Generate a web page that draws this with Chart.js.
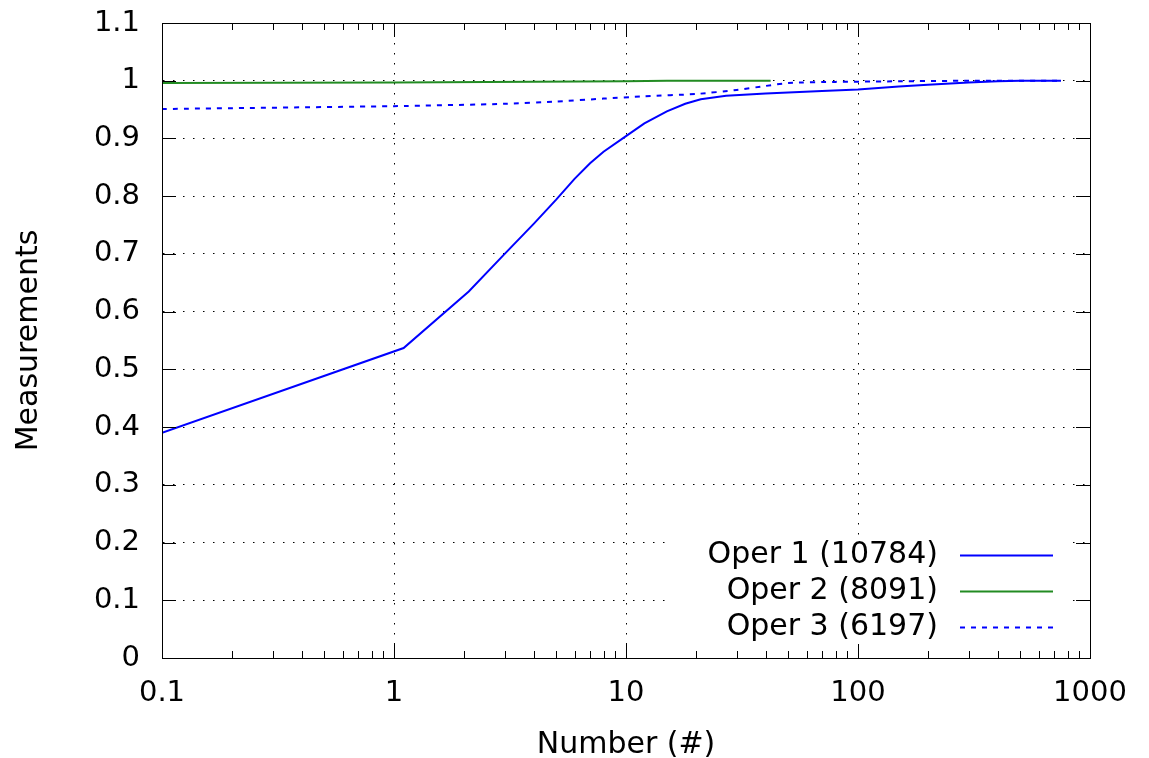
<!DOCTYPE html>
<html>
<head>
<meta charset="utf-8">
<script src="https://cdn.jsdelivr.net/npm/chart.js@4.4.1/dist/chart.umd.min.js"></script>
<style>
html,body{margin:0;padding:0;background:#fff;}
#wrap{width:1149px;height:758px;}
</style>
</head>
<body>
<div id="wrap"><canvas id="c" width="1149" height="758"></canvas></div>
<script>
// ---- data ----
const oper1X = [0.1, 1.1, 2.1, 3.0, 4.0, 5.0, 6.0, 7.0, 8.0, 10, 12, 15, 18, 21, 27, 40, 70, 100, 150, 200, 300, 400, 500, 750];
const oper1Y = [0.39, 0.537, 0.635, 0.70, 0.752, 0.794, 0.830, 0.857, 0.877, 0.904, 0.926, 0.947, 0.960, 0.968, 0.974, 0.978, 0.982, 0.985, 0.990, 0.993, 0.997, 0.999, 1.0, 1.0];
const oper2X = [0.1, 1, 10, 15, 42];
const oper2Y = [0.996, 0.997, 0.999, 1.0, 1.0];
const oper3X = [0.1, 1, 3, 5, 8, 12, 20, 30, 40, 50, 80, 150, 300, 750];
const oper3Y = [0.951, 0.956, 0.960, 0.964, 0.969, 0.973, 0.977, 0.984, 0.991, 0.996, 0.998, 0.999, 1.0, 1.0];
const seriesLabels = ['Oper 1 (10784)', 'Oper 2 (8091)', 'Oper 3 (6197)'];
const xTickValues = [0.1, 1, 10, 100, 1000];
const xTickLabels = ['0.1', '1', '10', '100', '1000'];
const yTickValues = [0, 0.1, 0.2, 0.3, 0.4, 0.5, 0.6, 0.7, 0.8, 0.9, 1.0, 1.1];
const yTickLabels = ['0', '0.1', '0.2', '0.3', '0.4', '0.5', '0.6', '0.7', '0.8', '0.9', '1', '1.1'];
const xTitle = 'Number (#)';
const yTitle = 'Measurements';

const FONT = "'DejaVu Sans', 'Liberation Sans', sans-serif";
const toPts = (xs, ys) => xs.map((x, i) => ({x: x, y: ys[i]}));

// Gnuplot-like inward ticks, full border, and in-plot legend
const framePlugin = {
  id: 'frame',
  beforeDatasetsDraw(chart) {
    const ctx = chart.ctx;
    ctx.save();
    ctx.fillStyle = '#fff';
    ctx.fillRect(666, 538, 404, 107);
    ctx.restore();
  },
  afterDatasetsDraw(chart) {
    const ctx = chart.ctx;
    const a = chart.chartArea;
    const xs = chart.scales.x, ys = chart.scales.y;
    ctx.save();
    ctx.strokeStyle = '#000';
    ctx.lineWidth = 1;
    ctx.setLineDash([]);
    ctx.beginPath();
    for (let d = 0; d < xTickValues.length; d++) {
      const v = xTickValues[d];
      const px = Math.round(xs.getPixelForValue(v)) + 0.5;
      ctx.moveTo(px, a.bottom); ctx.lineTo(px, a.bottom - 14);
      ctx.moveTo(px, a.top); ctx.lineTo(px, a.top + 14);
      if (d < xTickValues.length - 1) {
        for (let m = 2; m <= 9; m++) {
          const mp = Math.round(xs.getPixelForValue(v * m)) + 0.5;
          ctx.moveTo(mp, a.bottom); ctx.lineTo(mp, a.bottom - 7);
          ctx.moveTo(mp, a.top); ctx.lineTo(mp, a.top + 7);
        }
      }
    }
    for (const v of yTickValues) {
      const py = Math.round(ys.getPixelForValue(v)) + 0.5;
      ctx.moveTo(a.left, py); ctx.lineTo(a.left + 14, py);
      ctx.moveTo(a.right, py); ctx.lineTo(a.right - 14, py);
    }
    ctx.stroke();
    ctx.strokeRect(Math.round(a.left) + 0.5, Math.round(a.top) + 0.5, Math.round(a.right - a.left), Math.round(a.bottom - a.top));

    // legend
    ctx.font = '30px ' + FONT;
    ctx.fillStyle = '#000';
    ctx.textAlign = 'right';
    ctx.textBaseline = 'middle';
    const rows = [555, 591, 627];
    chart.data.datasets.forEach((ds, i) => {
      ctx.fillText(ds.label, 938, rows[i]);
      ctx.beginPath();
      ctx.strokeStyle = ds.borderColor;
      ctx.lineWidth = ds.borderWidth;
      ctx.setLineDash(ds.borderDash || []);
      ctx.moveTo(960, rows[i] + 0.5);
      ctx.lineTo(1053, rows[i] + 0.5);
      ctx.stroke();
    });
    ctx.restore();
  }
};

new Chart(document.getElementById('c'), {
  type: 'line',
  data: {
    datasets: [
      {label: seriesLabels[0], data: toPts(oper1X, oper1Y), borderColor: '#0000ff', borderWidth: 2, pointRadius: 0, tension: 0, fill: false},
      {label: seriesLabels[1], data: toPts(oper2X, oper2Y), borderColor: '#228b22', borderWidth: 2, pointRadius: 0, tension: 0, fill: false},
      {label: seriesLabels[2], data: toPts(oper3X, oper3Y), borderColor: '#0000ff', borderWidth: 2, borderDash: [5, 6], pointRadius: 0, tension: 0.2, fill: false}
    ]
  },
  options: {
    responsive: false,
    animation: false,
    devicePixelRatio: 1,
    layout: {padding: {left: 0, right: 59, top: 23, bottom: 0}},
    plugins: {legend: {display: false}, tooltip: {enabled: false}},
    scales: {
      x: {
        type: 'logarithmic',
        min: 0.1, max: 1000,
        afterBuildTicks: (s) => { s.ticks = xTickValues.map(v => ({value: v})); },
        afterFit: (s) => { s.height = 100; s.paddingLeft = 0; s.paddingRight = 0; },
        ticks: {
          autoSkip: false, maxRotation: 0, padding: 18,
          color: '#000', font: {family: FONT, size: 29},
          callback: (v, i) => xTickLabels[i]
        },
        grid: {color: '#000', lineWidth: 1, drawTicks: false},
        border: {display: true, color: '#000', width: 1, dash: [1.5, 8.5]},
        title: {display: true, text: xTitle, color: '#000', font: {family: FONT, size: 30, lineHeight: 0.85}, padding: {top: 0, bottom: 0}}
      },
      y: {
        type: 'linear',
        min: 0, max: 1.1,
        afterBuildTicks: (s) => { s.ticks = yTickValues.map(v => ({value: v})); },
        afterFit: (s) => { s.width = 162; s.paddingTop = 0; s.paddingBottom = 0; },
        ticks: {
          autoSkip: false, padding: 22,
          color: '#000', font: {family: FONT, size: 29},
          callback: (v, i) => yTickLabels[i]
        },
        grid: {color: '#000', lineWidth: 1, drawTicks: false},
        border: {display: true, color: '#000', width: 1, dash: [1.5, 8.5]},
        title: {display: true, text: yTitle, color: '#000', font: {family: FONT, size: 30, lineHeight: 1}, padding: {top: 14, bottom: 0}}
      }
    }
  },
  plugins: [framePlugin]
});
</script>
</body>
</html>
